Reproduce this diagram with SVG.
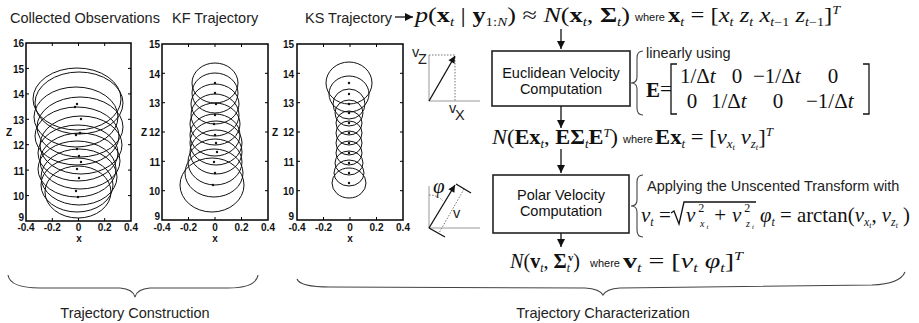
<svg xmlns="http://www.w3.org/2000/svg" width="919" height="323" viewBox="0 0 919 323">
<style>
.t{font-family:"Liberation Sans",Arial,sans-serif;font-size:14.5px;fill:#222}
.tk{font-family:"Liberation Sans",Arial,sans-serif;font-size:10px;font-weight:bold;fill:#111}
.tkr{font-family:"Liberation Sans",Arial,sans-serif;font-size:10px;font-weight:bold;fill:#111;text-anchor:end}
.tkm{font-family:"Liberation Sans",Arial,sans-serif;font-size:10px;font-weight:bold;fill:#111;text-anchor:middle}
.fr{fill:none;stroke:#000;stroke-width:1.5}
.tic{stroke:#000;stroke-width:1}
.el{fill:none;stroke:#111;stroke-width:1}
.dot{fill:#111}
.m{font-family:"Liberation Serif","Times New Roman",serif;font-size:21px;fill:#111}
.b{font-weight:bold}
.i{font-style:italic}
.w{font-family:"Liberation Sans",Arial,sans-serif;font-size:11px;fill:#111}
.box{fill:#fff;stroke:#222;stroke-width:1.6}
.bt{font-family:"Liberation Sans",Arial,sans-serif;font-size:14.5px;fill:#111;text-anchor:middle}
.ln{stroke:#111;stroke-width:1.3;fill:none}
.br{fill:none;stroke:#444;stroke-width:1.1}
.ax{stroke:#999;stroke-width:1;fill:none}
.dt{stroke:#777;stroke-width:1;fill:none;stroke-dasharray:1.5 1.5}
</style>
<defs>
<marker id="ah" viewBox="0 0 10 10" refX="10" refY="5" markerWidth="9" markerHeight="8" markerUnits="userSpaceOnUse" orient="auto"><path d="M0,0 L10,5 L0,10 z" fill="#111"/></marker>
<marker id="ahs" viewBox="0 0 10 10" refX="10" refY="5" markerWidth="8" markerHeight="7" markerUnits="userSpaceOnUse" orient="auto"><path d="M0,0 L10,5 L0,10 z" fill="#111"/></marker>
</defs>

<!-- Plot 1: Collected Observations -->
<g id="plot-observations">
<text class="t" x="10" y="23">Collected Observations</text>
<rect class="fr" x="26" y="43" width="105" height="178"/>
<path class="tic" d="M26,195.6h3M26,170.1h3M26,144.7h3M26,119.3h3M26,93.9h3M26,68.4h3M131,195.6h-3M131,170.1h-3M131,144.7h-3M131,119.3h-3M131,93.9h-3M131,68.4h-3M52.3,221v-3M78.5,221v-3M104.7,221v-3M52.3,43v3M78.5,43v3M104.7,43v3"/>
<text class="tkr" x="24" y="47">16</text>
<text class="tkr" x="24" y="72.5">15</text>
<text class="tkr" x="24" y="98">14</text>
<text class="tkr" x="24" y="123.5">13</text>
<text class="tkr" x="24" y="149">12</text>
<text class="tkr" x="24" y="174.5">11</text>
<text class="tkr" x="24" y="200">10</text>
<text class="tkr" x="24" y="221">9</text>
<text class="tk" x="6" y="136" font-size="11">Z</text>
<text class="tkm" x="26" y="231">-0.4</text>
<text class="tkm" x="52.3" y="231">-0.2</text>
<text class="tkm" x="78.5" y="231">0</text>
<text class="tkm" x="104.7" y="231">0.2</text>
<text class="tkm" x="131" y="231">0.4</text>
<text class="tkm" x="79" y="242" font-size="11">x</text>
<ellipse class="el" cx="77" cy="99" rx="44" ry="31"/>
<ellipse class="el" cx="79" cy="103" rx="44" ry="31"/>
<ellipse class="el" cx="76" cy="117" rx="42" ry="30"/>
<ellipse class="el" cx="80" cy="127" rx="43" ry="30"/>
<ellipse class="el" cx="77" cy="136" rx="42" ry="29"/>
<ellipse class="el" cx="81" cy="145" rx="41" ry="29"/>
<ellipse class="el" cx="78" cy="153" rx="40" ry="28"/>
<ellipse class="el" cx="80" cy="161" rx="40" ry="28"/>
<ellipse class="el" cx="77" cy="169" rx="39" ry="28"/>
<ellipse class="el" cx="79" cy="177" rx="38" ry="28"/>
<ellipse class="el" cx="77" cy="185" rx="36" ry="27"/>
<ellipse class="el" cx="78" cy="192" rx="33" ry="26"/>
<g class="dot">
<circle cx="77" cy="104" r="1.2"/><circle cx="75" cy="107" r="1.2"/><circle cx="81" cy="119" r="1.2"/><circle cx="80" cy="133" r="1.2"/><circle cx="76" cy="135" r="1.2"/><circle cx="77" cy="149" r="1.2"/><circle cx="79" cy="156" r="1.2"/><circle cx="81" cy="162" r="1.2"/><circle cx="77" cy="169" r="1.2"/><circle cx="79" cy="178" r="1.2"/><circle cx="76" cy="191" r="1.2"/><circle cx="78" cy="197" r="1.2"/>
</g>
</g>

<!-- Plot 2: KF Trajectory -->
<g id="plot-kf">
<text class="t" x="172" y="23">KF Trajectory</text>
<rect class="fr" x="162" y="44" width="106" height="176"/>
<path class="tic" d="M162,190.7h3M162,161.3h3M162,132h3M162,102.7h3M162,73.3h3M268,190.7h-3M268,161.3h-3M268,132h-3M268,102.7h-3M268,73.3h-3M188.5,220v-3M215,220v-3M241.5,220v-3M188.5,44v3M215,44v3M241.5,44v3"/>
<text class="tkr" x="160" y="48">15</text>
<text class="tkr" x="160" y="77.5">14</text>
<text class="tkr" x="160" y="106.5">13</text>
<text class="tkr" x="160" y="136">12</text>
<text class="tkr" x="160" y="165.5">11</text>
<text class="tkr" x="160" y="194.5">10</text>
<text class="tkr" x="160" y="220">9</text>
<text class="tk" x="141" y="136" font-size="11">Z</text>
<text class="tkm" x="162" y="231">-0.4</text>
<text class="tkm" x="188.5" y="231">-0.2</text>
<text class="tkm" x="215" y="231">0</text>
<text class="tkm" x="241.5" y="231">0.2</text>
<text class="tkm" x="268" y="231">0.4</text>
<text class="tkm" x="215" y="242" font-size="11">x</text>
<ellipse class="el" cx="215" cy="83" rx="23" ry="20"/>
<ellipse class="el" cx="215" cy="93" rx="23" ry="20"/>
<ellipse class="el" cx="215" cy="104" rx="24" ry="20"/>
<ellipse class="el" cx="215" cy="115" rx="24" ry="21"/>
<ellipse class="el" cx="215" cy="124" rx="25" ry="21"/>
<ellipse class="el" cx="215" cy="135" rx="25" ry="21"/>
<ellipse class="el" cx="216" cy="143" rx="26" ry="22"/>
<ellipse class="el" cx="216" cy="152" rx="26" ry="22"/>
<ellipse class="el" cx="215" cy="162" rx="27" ry="23"/>
<ellipse class="el" cx="214" cy="173" rx="29" ry="24"/>
<ellipse class="el" cx="212" cy="185" rx="32" ry="27"/>
<g class="dot">
<circle cx="215" cy="83" r="1.2"/><circle cx="215" cy="93" r="1.2"/><circle cx="216" cy="104" r="1.2"/><circle cx="215" cy="115" r="1.2"/><circle cx="214" cy="124" r="1.2"/><circle cx="215" cy="135" r="1.2"/><circle cx="216" cy="143" r="1.2"/><circle cx="217" cy="152" r="1.2"/><circle cx="214" cy="162" r="1.2"/><circle cx="215" cy="173" r="1.2"/><circle cx="213" cy="185" r="1.2"/>
</g>
</g>

<!-- Plot 3: KS Trajectory -->
<g id="plot-ks">
<text class="t" x="305" y="23">KS Trajectory</text>
<rect class="fr" x="297" y="44" width="106" height="176"/>
<path class="tic" d="M297,190.7h3M297,161.3h3M297,132h3M297,102.7h3M297,73.3h3M403,190.7h-3M403,161.3h-3M403,132h-3M403,102.7h-3M403,73.3h-3M323.5,220v-3M350,220v-3M376.5,220v-3M323.5,44v3M350,44v3M376.5,44v3"/>
<text class="tkr" x="294" y="48">15</text>
<text class="tkr" x="294" y="77.5">14</text>
<text class="tkr" x="294" y="106.5">13</text>
<text class="tkr" x="294" y="136">12</text>
<text class="tkr" x="294" y="165.5">11</text>
<text class="tkr" x="294" y="194.5">10</text>
<text class="tkr" x="294" y="220">9</text>
<text class="tk" x="272" y="136" font-size="11">Z</text>
<text class="tkm" x="297" y="231">-0.4</text>
<text class="tkm" x="323.5" y="231">-0.2</text>
<text class="tkm" x="350" y="231">0</text>
<text class="tkm" x="376.5" y="231">0.2</text>
<text class="tkm" x="403" y="231">0.4</text>
<text class="tkm" x="350" y="242" font-size="11">x</text>
<ellipse class="el" cx="349" cy="83" rx="23" ry="21"/>
<ellipse class="el" cx="349" cy="94" rx="20" ry="18"/>
<ellipse class="el" cx="349" cy="104" rx="16" ry="15"/>
<ellipse class="el" cx="349" cy="113" rx="14" ry="13"/>
<ellipse class="el" cx="349" cy="123" rx="13" ry="12"/>
<ellipse class="el" cx="349" cy="133" rx="13" ry="12"/>
<ellipse class="el" cx="349" cy="143" rx="13" ry="12"/>
<ellipse class="el" cx="349" cy="153" rx="13" ry="12"/>
<ellipse class="el" cx="349" cy="163" rx="14" ry="12"/>
<ellipse class="el" cx="349" cy="173" rx="15" ry="13"/>
<ellipse class="el" cx="349" cy="183" rx="17" ry="15"/>
<g class="dot">
<circle cx="349" cy="83" r="1.2"/><circle cx="349" cy="94" r="1.2"/><circle cx="349" cy="104" r="1.2"/><circle cx="349" cy="113" r="1.2"/><circle cx="349" cy="123" r="1.2"/><circle cx="349" cy="133" r="1.2"/><circle cx="349" cy="143" r="1.2"/><circle cx="349" cy="153" r="1.2"/><circle cx="349" cy="163" r="1.2"/><circle cx="349" cy="173" r="1.2"/><circle cx="349" cy="183" r="1.2"/>
</g>
</g>

<!-- Formula 1 -->
<g id="posterior">
<text class="m" x="415" y="22" textLength="215" lengthAdjust="spacingAndGlyphs"><tspan class="i">p</tspan>(<tspan class="b">x</tspan><tspan class="i" font-size="12" dy="4">t</tspan><tspan dy="-4"> | </tspan><tspan class="b">y</tspan><tspan font-size="12" dy="4">1:</tspan><tspan class="i" font-size="12">N</tspan><tspan dy="-4">) ≈ </tspan><tspan class="i">N</tspan>(<tspan class="b">x</tspan><tspan class="i" font-size="12" dy="4">t</tspan><tspan dy="-4">, </tspan><tspan class="b">Σ</tspan><tspan class="i" font-size="12" dy="4">t</tspan><tspan dy="-4">)</tspan></text>
<text class="w" x="635" y="21">where</text>
<text class="m" x="668" y="22" textLength="172" lengthAdjust="spacingAndGlyphs"><tspan class="b">x</tspan><tspan class="i" font-size="12" dy="4">t</tspan><tspan dy="-4"> = [</tspan><tspan class="i">x</tspan><tspan class="i" font-size="12" dy="4">t</tspan><tspan class="i" dy="-4"> z</tspan><tspan class="i" font-size="12" dy="4">t</tspan><tspan class="i" dy="-4"> x</tspan><tspan class="i" font-size="12" dy="4">t</tspan><tspan font-size="12">−1</tspan><tspan class="i" dy="-4"> z</tspan><tspan class="i" font-size="12" dy="4">t</tspan><tspan font-size="12">−1</tspan><tspan dy="-4">]</tspan><tspan class="i" font-size="12" dy="-8">T</tspan></text>
</g>

<!-- Euclidean box -->
<g id="euclidean">
<rect class="box" x="492" y="51" width="138" height="55"/>
<text class="bt" x="561" y="78">Euclidean Velocity</text>
<text class="bt" x="561" y="94">Computation</text>
</g>

<g id="euclid-detail">
<path class="br" d="M643,51 Q637,51 637,58 L637,77 Q637,83 631,83 Q637,83 637,89 L637,108 Q637,115 643,115"/>
<text class="t" x="646" y="58" font-size="13.5px">linearly using</text>
<text class="m b" x="646" y="97" font-size="21">E</text>
<text class="m" x="660" y="96">=</text>
<path class="ln" d="M677,64 L671,64 L671,114 L677,114"/>
<path class="ln" d="M863,64 L869,64 L869,114 L863,114"/>
<text class="m" x="680" y="83">1/Δ<tspan class="i">t</tspan></text>
<text class="m" x="737" y="83" text-anchor="middle">0</text>
<text class="m" x="753" y="83">−1/Δ<tspan class="i">t</tspan></text>
<text class="m" x="833" y="83" text-anchor="middle">0</text>
<text class="m" x="692" y="108" text-anchor="middle">0</text>
<text class="m" x="711" y="108">1/Δ<tspan class="i">t</tspan></text>
<text class="m" x="778" y="108" text-anchor="middle">0</text>
<text class="m" x="806" y="108">−1/Δ<tspan class="i">t</tspan></text>
</g>

<g id="cartesian-icon">
<path class="ax" d="M429,55 L429,101 L480,101"/>
<path class="dt" d="M429,55 L455,55 M455,57 L455,101"/>
<line class="ln" x1="429" y1="101" x2="455" y2="56" marker-end="url(#ahs)" stroke-width="1.2"/>
<text class="t" x="412" y="57" font-size="11px">v</text>
<text class="t" x="418" y="64" font-size="12px">Z</text>
<text class="t" x="449" y="113" font-size="11px">v</text>
<text class="t" x="455" y="120" font-size="12px">X</text>
</g>

<!-- Formula 2 -->
<g id="velocity-dist">
<text class="m" x="492" y="144" textLength="126" lengthAdjust="spacingAndGlyphs"><tspan class="i">N</tspan>(<tspan class="b">Ex</tspan><tspan class="i" font-size="12" dy="4">t</tspan><tspan dy="-4">, </tspan><tspan class="b">EΣ</tspan><tspan class="i" font-size="12" dy="4">t</tspan><tspan class="b" dy="-4">E</tspan><tspan class="i" font-size="12" dy="-7">T</tspan><tspan dy="7">)</tspan></text>
<text class="w" x="623" y="143">where</text>
<text class="m" x="655" y="144" textLength="118" lengthAdjust="spacingAndGlyphs"><tspan class="b">Ex</tspan><tspan class="i" font-size="12" dy="4">t</tspan><tspan dy="-4"> = [</tspan><tspan class="i">v</tspan><tspan class="i" font-size="12" dy="4">x</tspan><tspan class="i" font-size="8" dy="2">t</tspan><tspan class="i" dy="-6"> v</tspan><tspan class="i" font-size="12" dy="4">z</tspan><tspan class="i" font-size="8" dy="2">t</tspan><tspan dy="-6">]</tspan><tspan class="i" font-size="12" dy="-8">T</tspan></text>
</g>

<!-- Polar box -->
<g id="polar">
<rect class="box" x="493" y="175" width="136" height="58"/>
<text class="bt" x="561" y="200">Polar Velocity</text>
<text class="bt" x="561" y="216">Computation</text>
</g>

<g id="polar-detail">
<path class="br" d="M643,175 Q637,175 637,182 L637,200 Q637,206 631,206 Q637,206 637,212 L637,230 Q637,237 643,237"/>
<text class="t" x="647" y="191">Applying the Unscented Transform with</text>
<text class="m" x="641" y="222"><tspan class="i">v</tspan><tspan class="i" font-size="12" dy="4">t</tspan><tspan dy="-4"> =</tspan></text>
<path class="ln" stroke-width="1" d="M671,213 L674,211 L679,224 L684,202 L756,202"/>
<text class="m" x="686" y="222" textLength="68" lengthAdjust="spacing"><tspan class="i">v</tspan><tspan font-size="12" dx="1" dy="-10">2</tspan><tspan class="i" font-size="10" dx="-6" dy="15">x</tspan><tspan class="i" font-size="7" dy="2">t</tspan><tspan dx="4" dy="-7">+</tspan><tspan class="i" dx="4">v</tspan><tspan font-size="12" dx="1" dy="-10">2</tspan><tspan class="i" font-size="10" dx="-6" dy="15">z</tspan><tspan class="i" font-size="7" dy="2">t</tspan></text>
<text class="m" x="760" y="222" textLength="150" lengthAdjust="spacingAndGlyphs"><tspan class="i">φ</tspan><tspan class="i" font-size="12" dy="4">t</tspan><tspan dy="-4"> = arctan(</tspan><tspan class="i">v</tspan><tspan class="i" font-size="12" dy="4">x</tspan><tspan class="i" font-size="8" dy="2">t</tspan><tspan dy="-6">, </tspan><tspan class="i">v</tspan><tspan class="i" font-size="12" dy="4">z</tspan><tspan class="i" font-size="8" dy="2">t</tspan><tspan dy="-6"> )</tspan></text>
</g>

<g id="polar-icon">
<path class="ax" d="M429,186 L429,228 L480,228"/>
<path class="dt" d="M429,195 Q438,195 443,201"/>
<path class="dt" d="M464,189 L439,233"/>
<path class="ln" stroke-width="1" d="M456,184 L471,193 M429,228 L445,237"/>
<line class="ln" x1="429" y1="228" x2="455" y2="185" marker-end="url(#ahs)" stroke-width="1.2"/>
<text class="m i" x="433" y="193" font-size="13">φ</text>
<text class="t" x="453" y="218" font-size="13px">v</text>
</g>

<!-- Formula 3 -->
<g id="polar-dist">
<text class="m" x="510" y="268" textLength="70" lengthAdjust="spacingAndGlyphs"><tspan class="i">N</tspan>(<tspan class="b">v</tspan><tspan class="i" font-size="12" dy="4">t</tspan><tspan dy="-4">, </tspan><tspan class="b">Σ</tspan><tspan class="i" font-size="12" dy="4">t</tspan><tspan class="b" font-size="11" dx="-2" dy="-11">v</tspan><tspan dy="7">)</tspan></text>
<text class="w" x="590" y="267">where</text>
<text class="m" x="623" y="268" textLength="120" lengthAdjust="spacingAndGlyphs"><tspan class="b">v</tspan><tspan class="i" font-size="12" dy="4">t</tspan><tspan dy="-4"> = [</tspan><tspan class="i">v</tspan><tspan class="i" font-size="12" dy="4">t</tspan><tspan class="i" dy="-4"> φ</tspan><tspan class="i" font-size="12" dy="4">t</tspan><tspan dy="-4">]</tspan><tspan class="i" font-size="12" dy="-8">T</tspan></text>
</g>

<!-- connectors -->
<g id="connectors">
<line class="ln" x1="395" y1="17" x2="413" y2="17" marker-end="url(#ah)"/>
<line class="ln" x1="561" y1="29" x2="561" y2="49" marker-end="url(#ah)"/>
<line class="ln" x1="561" y1="106" x2="561" y2="128" marker-end="url(#ah)"/>
<line class="ln" x1="561" y1="149" x2="561" y2="173" marker-end="url(#ah)"/>
<line class="ln" x1="561" y1="233" x2="561" y2="247" marker-end="url(#ah)"/>
</g>

<!-- bottom braces -->
<g id="construction">
<path class="br" d="M8,275 Q10,288 40,288 L120,288 Q133,289 135,297 Q137,289 150,288 L228,288 Q256,288 258,275"/>
<text class="t" x="135" y="318" text-anchor="middle">Trajectory Construction</text>
</g>
<g id="characterization">
<path class="br" d="M297,279 Q300,287 330,287 L585,288 Q600,289 603,295 Q606,289 620,288 L872,285 Q900,284 905,272"/>
<text class="t" x="603" y="318" text-anchor="middle">Trajectory Characterization</text>
</g>
</svg>
